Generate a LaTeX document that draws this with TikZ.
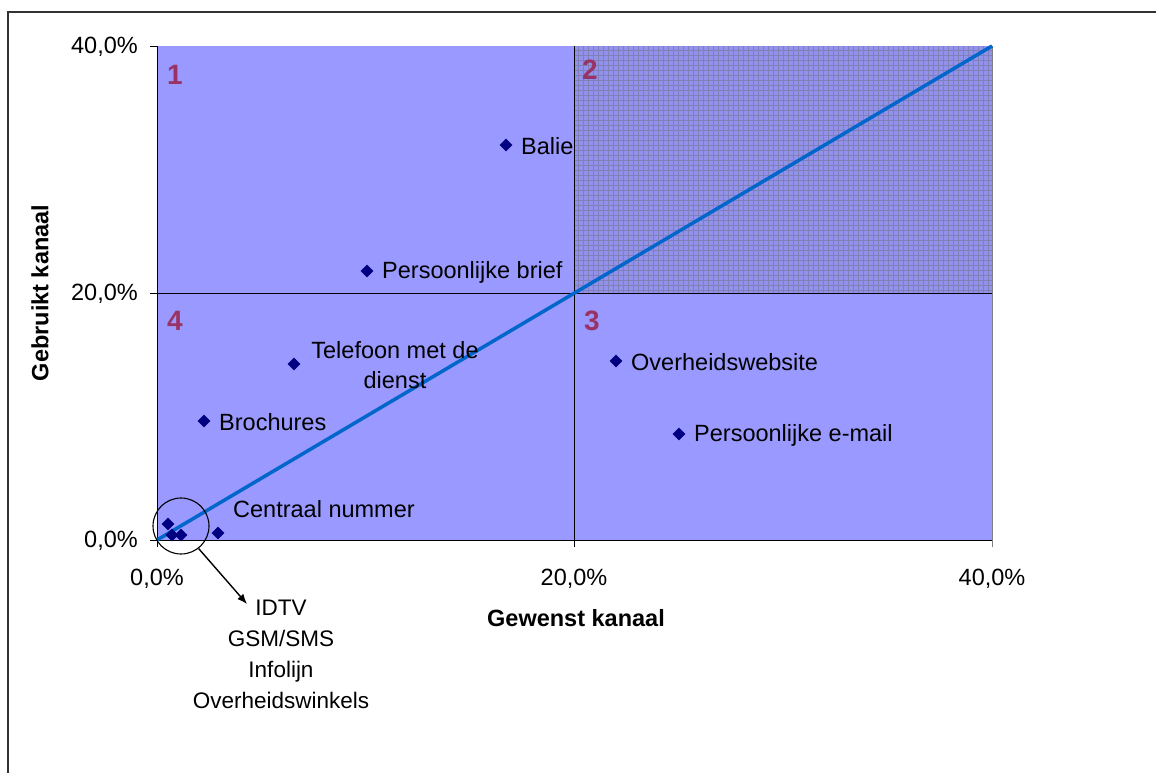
\documentclass[tikz,border=0pt]{standalone}
\usepackage{fontspec}
\setmainfont{Liberation Sans}
\usetikzlibrary{shapes.geometric,arrows.meta}
\definecolor{plotbg}{RGB}{153,153,255}
\definecolor{hatchbg}{RGB}{146,146,236}
\definecolor{gridgray}{RGB}{128,128,185}
\definecolor{quadnum}{RGB}{153,51,102}
\definecolor{ptcol}{RGB}{0,0,128}
\definecolor{diagcol}{RGB}{0,102,204}
\begin{document}
\begin{tikzpicture}[x=1pt,y=-1pt,
  dot/.style={diamond,fill=ptcol,inner sep=0pt,minimum size=13pt},
  lbl/.style={anchor=west,font=\fontsize{23.5}{29}\selectfont,inner sep=0pt},
  ticklbl/.style={font=\fontsize{23.5}{28}\selectfont,inner sep=0pt},
  quad/.style={font=\bfseries\fontsize{28}{32}\selectfont,text=quadnum,inner sep=0pt},
  axtitle/.style={font=\bfseries\fontsize{23.5}{28}\selectfont,inner sep=0pt},
  axline/.style={black,line width=0.9pt},
  quadline/.style={black,line width=0.8pt}]
\useasboundingbox (0,0) rectangle (1156,772);
% frame
\draw[line width=1.5pt,black!80] (8,780) -- (8,12) -- (1170,12);
% plot area
\fill[plotbg] (157,46) rectangle (992,540);
\fill[hatchbg] (574,46) rectangle (992,293);
\foreach \gx in {578,583,...,990} \draw[gridgray,line width=0.4pt] (\gx,46) -- (\gx,293);
\foreach \gy in {50,55,...,292} \draw[gridgray,line width=0.4pt] (574,\gy) -- (992,\gy);
% quadrant lines
\draw[quadline] (574,46) -- (574,540);
\draw[quadline] (157,293) -- (992,293);
\draw[gray,line width=0.8pt] (992,46) -- (992,547);
% axes
\draw[axline] (157,46) -- (157,547);
\draw[axline] (150,540) -- (992,540);
\foreach \ty in {46,293} \draw[axline] (150,\ty) -- (157,\ty);
\draw[axline] (574,540) -- (574,547);
% tick labels
\node[ticklbl,anchor=east] (y40) at (138,47) {40,0\%};
\node[ticklbl,anchor=east] (y20) at (138,294) {20,0\%};
\node[ticklbl,anchor=east] (y0) at (138,541) {0,0\%};
\node[ticklbl] (x0) at (157,579) {0,0\%};
\node[ticklbl] (x20) at (574,579) {20,0\%};
\node[ticklbl] (x40) at (992,579) {40,0\%};
% axis titles
\node[axtitle] (xt) at (576,618) {Gewenst kanaal};
\node[axtitle,rotate=90] (yt) at (40,293) {Gebruikt kanaal};
% quadrant numbers
\node[quad] (q1) at (175,75) {1};
\node[quad] (q2) at (590,70) {2};
\node[quad] (q3) at (592,321) {3};
\node[quad] (q4) at (175,321) {4};
% diagonal
\coordinate (o) at (157,540);
\coordinate (e) at (992,46);
\draw[diagcol,line width=3.5pt] (o) -- (e);
% data points
\node[dot] (balie) at (506,145) {};
\node[dot] (brief) at (367,271) {};
\node[dot] (tel) at (294,364) {};
\node[dot] (broch) at (204,421) {};
\node[dot] (centr) at (218,533) {};
\node[dot] (c1) at (168,524) {};
\node[dot] (c2) at (172,535) {};
\node[dot] (c3) at (181,535) {};
\node[dot] (web) at (616,361) {};
\node[dot] (mail) at (679,434) {};
% labels
\node[lbl] (lbalie) at (521,146) {Balie};
\node[lbl] (lbrief) at (382,272) {Persoonlijke brief};
\node[font=\fontsize{23.5}{30}\selectfont,inner sep=0pt,align=center] (ltel) at (395,365) {Telefoon met de\\dienst};
\node[lbl] (lbroch) at (219,422) {Brochures};
\node[lbl] (lcentr) at (233,509) {Centraal nummer};
\node[lbl] (lweb) at (631,362) {Overheidswebsite};
\node[lbl] (lmail) at (694,435) {Persoonlijke e-mail};
% circle and callout
\node[circle,draw=black,line width=1.1pt,minimum size=56pt,inner sep=0pt] (circ) at (181,526) {};
\node[font=\fontsize{22.5}{31}\selectfont,inner sep=0pt,align=center] (clist) at (281,654) {IDTV\\GSM/SMS\\Infolijn\\Overheidswinkels};
\coordinate (arrend) at (247,604);
\draw[line width=1.4pt,-{Latex[length=10pt,width=8pt]}] (circ.-52) -- (arrend);
\end{tikzpicture}
\end{document}
